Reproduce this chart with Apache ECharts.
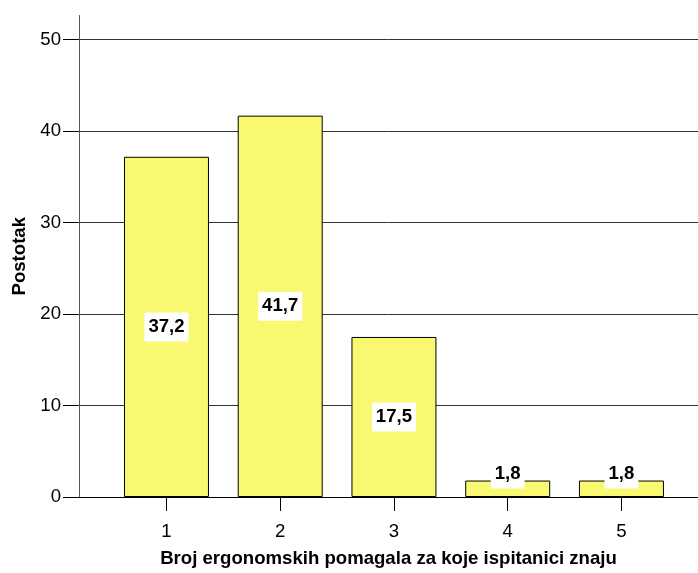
<!DOCTYPE html>
<html>
<head>
<meta charset="utf-8">
<style>
  html, body { margin: 0; padding: 0; background: #fff; }
  #chart { width: 698px; height: 573px; }
</style>
<script src="https://cdn.jsdelivr.net/npm/echarts@6/dist/echarts.min.js"></script>
</head>
<body>
<div id="chart"></div>
<script>
// Number of ergonomic aids known by respondents, percentage per group
const categories = [1, 2, 3, 4, 5];
const percentages = [37.2, 41.7, 17.5, 1.8, 1.8];
const yTickValues = [0, 10, 20, 30, 40, 50];

const xTitle = 'Broj ergonomskih pomagala za koje ispitanici znaju';
const yTitle = 'Postotak';

const FONT = '"Liberation Sans", Arial, sans-serif';
const FS = 18.6;

const barData = categories.map((c, i) => {
  const v = percentages[i];
  const small = v < 5;
  return {
    value: [c, v],
    label: small
      ? { position: 'top', distance: -8 }
      : { position: 'inside' }
  };
});

const chart = echarts.init(document.getElementById('chart'), null, { renderer: 'canvas' });
chart.setOption({
  animation: false,
  backgroundColor: '#fff',
  grid: { left: 79, right: 0, top: 15.5, bottom: 70, containLabel: false },
  xAxis: {
    type: 'value',
    min: 0.231,
    max: 5.673,
    name: xTitle,
    nameLocation: 'middle',
    nameGap: 52,
    nameTextStyle: { fontFamily: FONT, fontSize: FS, fontWeight: 'bold', color: '#000' },
    axisLine: { show: true, onZero: false, lineStyle: { color: '#000', width: 1 } },
    axisTick: { show: true, length: 14, customValues: categories, lineStyle: { color: '#000' } },
    axisLabel: {
      customValues: categories, margin: 25,
      fontFamily: FONT, fontSize: FS, color: '#000'
    },
    splitLine: { show: false }
  },
  yAxis: {
    type: 'value',
    min: 0,
    max: 52.65,
    name: yTitle,
    nameLocation: 'middle',
    nameGap: 48,
    nameRotate: 90,
    nameTextStyle: { fontFamily: FONT, fontSize: FS, fontWeight: 'bold', color: '#000' },
    axisLine: { show: true, lineStyle: { color: '#555', width: 1 } },
    axisTick: { show: true, length: 16, customValues: yTickValues, lineStyle: { color: '#000' } },
    axisLabel: {
      customValues: yTickValues, margin: 18,
      fontFamily: FONT, fontSize: FS, color: '#000'
    },
    splitLine: { show: true, lineStyle: { color: '#333', width: 1 } }
  },
  series: [{
    type: 'bar',
    data: barData,
    barWidth: 85,
    itemStyle: { color: '#f9f871', borderColor: '#000', borderWidth: 1 },
    label: {
      show: true,
      fontFamily: FONT, fontSize: FS, fontWeight: 'bold', color: '#000',
      backgroundColor: '#fff',
      padding: [5, 4],
      lineHeight: 19,
      formatter: p => String(p.value[1]).replace('.', ',')
    },
    z: 3
  }]
});
</script>
</body>
</html>
